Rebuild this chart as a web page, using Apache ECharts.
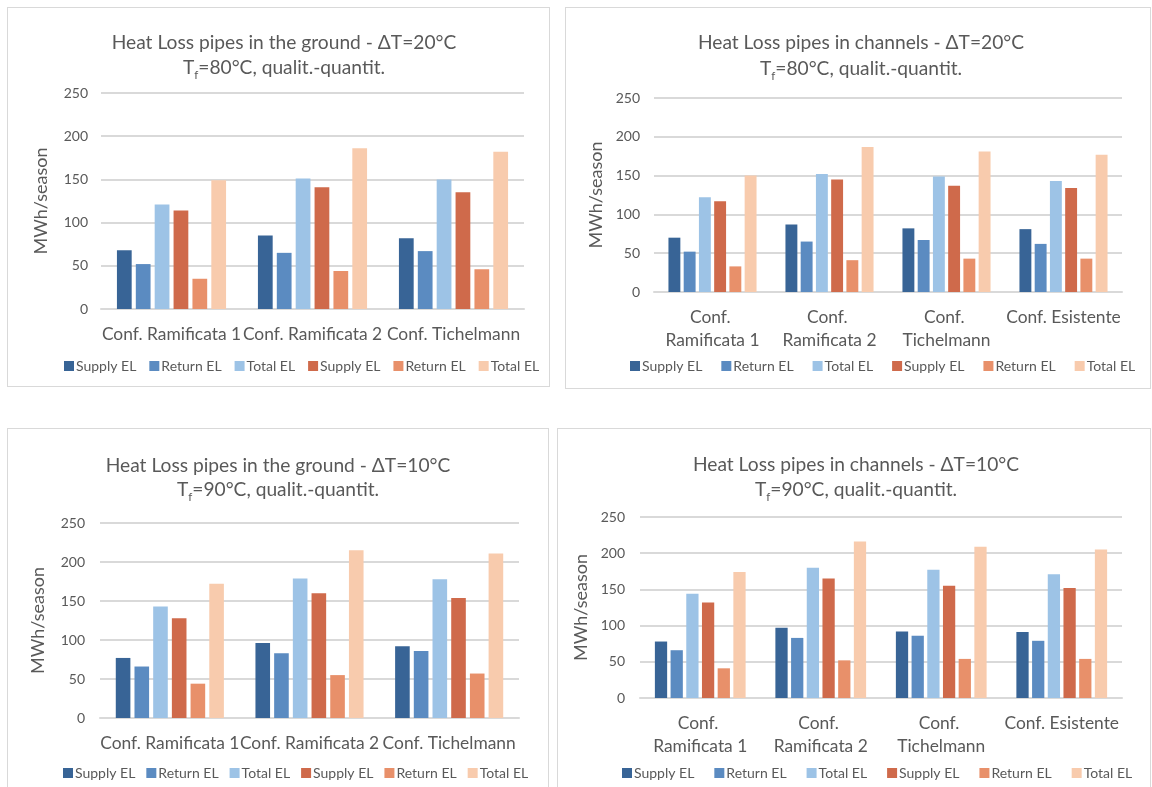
<!DOCTYPE html>
<html>
<head>
<meta charset="utf-8">
<script src="https://cdn.jsdelivr.net/npm/echarts@6/dist/echarts.min.js"></script>
<style>
  html, body { margin: 0; padding: 0; background: #ffffff; width: 1152px; height: 787px; overflow: hidden; }
  .panel { position: absolute; box-sizing: border-box; border: 1px solid #d9d9d9; background: #fff; }
</style>
</head>
<body>
<div id="p1" class="panel" style="left:7px; top:7px; width:543px; height:380px;"></div>
<div id="p2" class="panel" style="left:565px; top:7px; width:586px; height:382px;"></div>
<div id="p3" class="panel" style="left:7px; top:428px; width:542px; height:370px;"></div>
<div id="p4" class="panel" style="left:557px; top:428px; width:594px; height:370px;"></div>
<script>
// Categories (network configurations)
const groundCategories = ['Conf. Ramificata 1', 'Conf. Ramificata 2', 'Conf. Tichelmann'];
const channelCategories = ['Conf. Ramificata 1', 'Conf. Ramificata 2', 'Conf. Tichelmann', 'Conf. Esistente'];

// Legend labels: blue group then orange group
const seriesKeys = ['supplyA', 'returnA', 'totalA', 'supplyB', 'returnB', 'totalB'];
const seriesLabels = ['Supply EL', 'Return EL', 'Total EL', 'Supply EL', 'Return EL', 'Total EL'];
const seriesColors = ['#386496', '#5b8bc1', '#9dc3e6', '#cf6a4b', '#e8906a', '#f8cbad'];

// Value axis (MWh/season)
const yMin = 0;
const yMax = 250;
const yStep = 50;

// Pipes in the ground, ΔT=20°C, Tf=80°C
const g20SupplyA = [68, 85, 82];
const g20ReturnA = [52, 65, 67];
const g20TotalA  = [121, 151, 150];
const g20SupplyB = [114, 141, 135];
const g20ReturnB = [35, 44, 46];
const g20TotalB  = [149, 186, 182];

// Pipes in channels, ΔT=20°C, Tf=80°C
const c20SupplyA = [70, 87, 82, 81];
const c20ReturnA = [52, 65, 67, 62];
const c20TotalA  = [122, 152, 149, 143];
const c20SupplyB = [117, 145, 137, 134];
const c20ReturnB = [33, 41, 43, 43];
const c20TotalB  = [150, 187, 181, 177];

// Pipes in the ground, ΔT=10°C, Tf=90°C
const g10SupplyA = [77, 96, 92];
const g10ReturnA = [66, 83, 86];
const g10TotalA  = [143, 179, 178];
const g10SupplyB = [128, 160, 154];
const g10ReturnB = [44, 55, 57];
const g10TotalB  = [172, 215, 211];

// Pipes in channels, ΔT=10°C, Tf=90°C
const c10SupplyA = [78, 97, 92, 91];
const c10ReturnA = [66, 83, 86, 79];
const c10TotalA  = [144, 180, 177, 171];
const c10SupplyB = [132, 165, 155, 152];
const c10ReturnB = [41, 52, 54, 54];
const c10TotalB  = [174, 216, 209, 205];

const FONT = 'Lato';
const TEXT = '#595959';
const GRID_LINE = '#d9d9d9';

function buildOption(cfg) {
  const data = cfg.values;
  return {
    animation: false,
    textStyle: { fontFamily: FONT, color: TEXT },
    title: {
      text: cfg.title,
      subtext: cfg.subtitle,
      left: cfg.titleX,
      top: cfg.titleY,
      textAlign: 'center',
      padding: 0,
      itemGap: cfg.titleGap,
      textStyle: { fontFamily: FONT, fontSize: 19.2, fontWeight: 'normal', color: TEXT, lineHeight: 19 },
      subtextStyle: {
        fontFamily: FONT, fontSize: 19.2, color: TEXT, lineHeight: 26,
        rich: { s: { fontFamily: FONT, fontSize: 11.5, color: TEXT, verticalAlign: 'bottom' } }
      }
    },
    legend: {
      data: seriesKeys,
      formatter: function (name) { return seriesLabels[seriesKeys.indexOf(name)]; },
      left: cfg.legendX,
      top: cfg.legendY,
      width: 700,
      icon: 'rect',
      itemWidth: 10,
      itemHeight: 10,
      itemGap: cfg.legendGap,
      padding: 0,
      textStyle: { fontFamily: FONT, fontSize: 14, color: TEXT, padding: [0, 0, 0, -3] }
    },
    grid: cfg.grid,
    xAxis: {
      type: 'category',
      data: cfg.categories,
      axisTick: { show: false },
      axisLine: { lineStyle: { color: GRID_LINE, width: 2 } },
      axisLabel: Object.assign({
        interval: 0,
        fontFamily: FONT,
        fontSize: 17.4,
        color: TEXT,
        margin: cfg.catMargin,
        lineHeight: 23
      }, cfg.catWrap ? { width: cfg.catWrap, overflow: 'break' } : {})
    },
    yAxis: {
      type: 'value',
      min: yMin,
      max: yMax,
      interval: yStep,
      name: 'MWh/season',
      nameLocation: 'middle',
      nameGap: cfg.nameGap,
      nameTextStyle: { fontFamily: FONT, fontSize: 18, color: TEXT },
      axisLine: { show: false },
      axisTick: { show: false },
      axisLabel: { fontFamily: FONT, fontSize: 14, color: TEXT, margin: cfg.tickMargin },
      splitLine: { lineStyle: { color: GRID_LINE, width: 2 } }
    },
    series: seriesKeys.map(function (key, i) {
      return {
        name: key,
        type: 'bar',
        data: data[i],
        barGap: '28%',
        barCategoryGap: cfg.catGap,
        itemStyle: { color: seriesColors[i] }
      };
    })
  };
}

const panels = [
  {
    el: 'p1',
    title: 'Heat Loss pipes in the ground - ΔT=20°C',
    subtitle: 'T{s|f}=80°C, qualit.-quantit.',
    titleX: 276, titleY: 25, titleGap: 3,
    categories: groundCategories,
    values: [g20SupplyA, g20ReturnA, g20TotalA, g20SupplyB, g20ReturnB, g20TotalB],
    grid: { left: 93, right: 25, top: 85, bottom: 77 },
    catGap: '22.6%', catMargin: 14, catWrap: null,
    tickMargin: 13, nameGap: 51,
    legendX: 56, legendY: 351, legendGap: 13
  },
  {
    el: 'p2',
    title: 'Heat Loss pipes in channels - ΔT=20°C',
    subtitle: 'T{s|f}=80°C, qualit.-quantit.',
    titleX: 295, titleY: 25, titleGap: 4,
    categories: channelCategories,
    values: [c20SupplyA, c20ReturnA, c20TotalA, c20SupplyB, c20ReturnB, c20TotalB],
    grid: { left: 88, right: 28, top: 90, bottom: 96 },
    catGap: '24.7%', catMargin: 14, catWrap: 118,
    tickMargin: 14, nameGap: 46,
    legendX: 64, legendY: 351, legendGap: 19
  },
  {
    el: 'p3',
    title: 'Heat Loss pipes in the ground - ΔT=10°C',
    subtitle: 'T{s|f}=90°C, qualit.-quantit.',
    titleX: 270, titleY: 27, titleGap: 2,
    categories: groundCategories,
    values: [g10SupplyA, g10ReturnA, g10TotalA, g10SupplyB, g10ReturnB, g10TotalB],
    grid: { left: 92, right: 29, top: 94, bottom: 79 },
    catGap: '22.6%', catMargin: 14, catWrap: null,
    tickMargin: 15, nameGap: 53,
    legendX: 55, legendY: 337, legendGap: 11
  },
  {
    el: 'p4',
    title: 'Heat Loss pipes in channels - ΔT=10°C',
    subtitle: 'T{s|f}=90°C, qualit.-quantit.',
    titleX: 298, titleY: 26, titleGap: 3,
    categories: channelCategories,
    values: [c10SupplyA, c10ReturnA, c10TotalA, c10SupplyB, c10ReturnB, c10TotalB],
    grid: { left: 82, right: 28, top: 88, bottom: 99 },
    catGap: '24.7%', catMargin: 14, catWrap: 118,
    tickMargin: 15, nameGap: 48,
    legendX: 64, legendY: 337, legendGap: 20
  }
];

panels.forEach(function (cfg) {
  const chart = echarts.init(document.getElementById(cfg.el), null, { renderer: 'canvas' });
  chart.setOption(buildOption(cfg));
});
</script>
</body>
</html>
